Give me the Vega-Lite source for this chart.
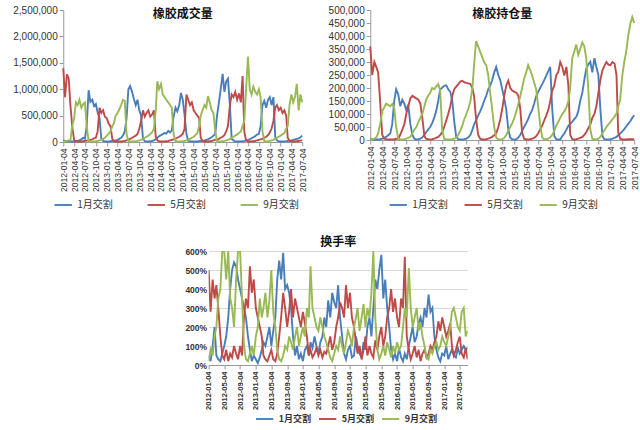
{
"$schema": "https://vega.github.io/schema/vega-lite/v6.json",
"background": "white",
"padding": {"left": 12, "top": 5, "right": 4, "bottom": 4},
"datasets": {"d": [
{"d":"2012-01-04","v1":30000,"v5":1400000,"v9":10000,"o1":5000,"o5":360000,"o9":2000,"t1":0.5,"t5":5,"t9":0.2},
{"d":"2012-01-19","v1":20000,"v5":850000,"v9":15000,"o1":2000,"o5":250000,"o9":3000,"t1":0.2,"t5":2.8,"t9":0.8},
{"d":"2012-02-04","v1":15000,"v5":1280000,"v9":20000,"o1":2000,"o5":300000,"o9":5000,"t1":1,"t5":4.5,"t9":0.5},
{"d":"2012-02-19","v1":10000,"v5":1200000,"v9":30000,"o1":2000,"o5":280000,"o9":10000,"t1":2,"t5":3.5,"t9":1.5},
{"d":"2012-03-04","v1":10000,"v5":700000,"v9":30000,"o1":2000,"o5":260000,"o9":25000,"t1":0.5,"t5":4.2,"t9":2},
{"d":"2012-03-19","v1":10000,"v5":300000,"v9":300000,"o1":3000,"o5":150000,"o9":60000,"t1":0.3,"t5":3,"t9":3.5},
{"d":"2012-04-04","v1":10000,"v5":40000,"v9":450000,"o1":5000,"o5":20000,"o9":110000,"t1":0.2,"t5":1.5,"t9":4},
{"d":"2012-04-19","v1":20000,"v5":10000,"v9":750000,"o1":8000,"o5":5000,"o9":125000,"t1":0.6,"t5":0.5,"t9":6},
{"d":"2012-05-04","v1":20000,"v5":10000,"v9":700000,"o1":12000,"o5":3000,"o9":140000,"t1":1,"t5":0.3,"t9":6},
{"d":"2012-05-19","v1":30000,"v5":10000,"v9":800000,"o1":18000,"o5":2000,"o9":135000,"t1":1.5,"t5":0.8,"t9":4.5},
{"d":"2012-06-04","v1":50000,"v5":10000,"v9":650000,"o1":25000,"o5":2000,"o9":130000,"t1":2.5,"t5":0.2,"t9":6},
{"d":"2012-06-19","v1":80000,"v5":15000,"v9":720000,"o1":60000,"o5":2000,"o9":138000,"t1":4,"t5":0.6,"t9":3.5},
{"d":"2012-07-04","v1":60000,"v5":20000,"v9":750000,"o1":150000,"o5":2000,"o9":125000,"t1":5,"t5":0.4,"t9":3},
{"d":"2012-07-19","v1":300000,"v5":25000,"v9":300000,"o1":195000,"o5":5000,"o9":50000,"t1":5.4,"t5":1,"t9":2},
{"d":"2012-08-04","v1":980000,"v5":30000,"v9":20000,"o1":175000,"o5":5000,"o9":5000,"t1":5.2,"t5":0.6,"t9":4.5},
{"d":"2012-08-19","v1":760000,"v5":40000,"v9":10000,"o1":130000,"o5":20000,"o9":2000,"t1":4.5,"t5":0.3,"t9":6},
{"d":"2012-09-04","v1":800000,"v5":50000,"v9":10000,"o1":155000,"o5":40000,"o9":2000,"t1":4,"t5":1,"t9":6},
{"d":"2012-09-19","v1":680000,"v5":70000,"v9":10000,"o1":140000,"o5":60000,"o9":3000,"t1":3.5,"t5":0.5,"t9":3.5},
{"d":"2012-10-04","v1":720000,"v5":80000,"v9":15000,"o1":115000,"o5":100000,"o9":5000,"t1":3,"t5":2.5,"t9":1},
{"d":"2012-10-19","v1":560000,"v5":200000,"v9":20000,"o1":135000,"o5":130000,"o9":8000,"t1":2.5,"t5":3.5,"t9":0.3},
{"d":"2012-11-04","v1":450000,"v5":650000,"v9":30000,"o1":62000,"o5":160000,"o9":12000,"t1":1.5,"t5":3,"t9":0.2},
{"d":"2012-11-19","v1":60000,"v5":550000,"v9":40000,"o1":20000,"o5":170000,"o9":25000,"t1":0.8,"t5":5.2,"t9":0.6},
{"d":"2012-12-04","v1":20000,"v5":600000,"v9":60000,"o1":5000,"o5":165000,"o9":40000,"t1":0.2,"t5":3.8,"t9":1},
{"d":"2012-12-19","v1":10000,"v5":480000,"v9":80000,"o1":2000,"o5":160000,"o9":49000,"t1":0.5,"t5":4.5,"t9":0.5},
{"d":"2013-01-04","v1":10000,"v5":450000,"v9":120000,"o1":3000,"o5":155000,"o9":70000,"t1":0.3,"t5":3,"t9":1.5},
{"d":"2013-01-19","v1":10000,"v5":350000,"v9":160000,"o1":5000,"o5":140000,"o9":85000,"t1":0.1,"t5":2.5,"t9":2},
{"d":"2013-02-04","v1":15000,"v5":300000,"v9":200000,"o1":10000,"o5":80000,"o9":102000,"t1":0.4,"t5":2,"t9":3.5},
{"d":"2013-02-19","v1":20000,"v5":60000,"v9":300000,"o1":20000,"o5":15000,"o9":130000,"t1":0.8,"t5":1.5,"t9":2.5},
{"d":"2013-03-04","v1":20000,"v5":20000,"v9":350000,"o1":30000,"o5":5000,"o9":155000,"t1":1.2,"t5":0.5,"t9":3},
{"d":"2013-03-19","v1":30000,"v5":10000,"v9":500000,"o1":40000,"o5":3000,"o9":170000,"t1":1,"t5":0.3,"t9":3.8},
{"d":"2013-04-04","v1":40000,"v5":10000,"v9":550000,"o1":50000,"o5":2000,"o9":182000,"t1":1.5,"t5":0.2,"t9":2.5},
{"d":"2013-04-19","v1":60000,"v5":10000,"v9":620000,"o1":65000,"o5":3000,"o9":200000,"t1":2,"t5":0.5,"t9":3.4},
{"d":"2013-05-04","v1":80000,"v5":10000,"v9":700000,"o1":85000,"o5":5000,"o9":195000,"t1":1,"t5":0.8,"t9":5},
{"d":"2013-05-19","v1":120000,"v5":15000,"v9":800000,"o1":110000,"o5":8000,"o9":205000,"t1":1.8,"t5":0.3,"t9":2.8},
{"d":"2013-06-04","v1":200000,"v5":20000,"v9":780000,"o1":150000,"o5":12000,"o9":215000,"t1":2.5,"t5":0.2,"t9":2},
{"d":"2013-06-19","v1":450000,"v5":30000,"v9":150000,"o1":195000,"o5":20000,"o9":190000,"t1":4.5,"t5":0.6,"t9":0.8},
{"d":"2013-07-04","v1":1000000,"v5":40000,"v9":20000,"o1":201000,"o5":30000,"o9":40000,"t1":5.5,"t5":1.5,"t9":0.3},
{"d":"2013-07-19","v1":1060000,"v5":60000,"v9":10000,"o1":208000,"o5":50000,"o9":5000,"t1":4.5,"t5":2.5,"t9":0.2},
{"d":"2013-08-04","v1":950000,"v5":80000,"v9":10000,"o1":210000,"o5":75000,"o9":2000,"t1":5.9,"t5":3.8,"t9":0.5},
{"d":"2013-08-19","v1":820000,"v5":100000,"v9":10000,"o1":195000,"o5":100000,"o9":2000,"t1":4,"t5":3,"t9":1},
{"d":"2013-09-04","v1":700000,"v5":120000,"v9":15000,"o1":185000,"o5":130000,"o9":2000,"t1":4.2,"t5":2,"t9":0.8},
{"d":"2013-09-19","v1":800000,"v5":150000,"v9":20000,"o1":150000,"o5":170000,"o9":3000,"t1":3.8,"t5":2.8,"t9":1.5},
{"d":"2013-10-04","v1":600000,"v5":250000,"v9":30000,"o1":70000,"o5":195000,"o9":5000,"t1":3,"t5":4,"t9":1.2},
{"d":"2013-10-19","v1":500000,"v5":400000,"v9":40000,"o1":12000,"o5":205000,"o9":10000,"t1":1.5,"t5":2.5,"t9":0.8},
{"d":"2013-11-04","v1":60000,"v5":600000,"v9":60000,"o1":3000,"o5":215000,"o9":20000,"t1":0.5,"t5":3.5,"t9":1.5},
{"d":"2013-11-19","v1":15000,"v5":480000,"v9":80000,"o1":2000,"o5":225000,"o9":35000,"t1":1,"t5":3,"t9":2},
{"d":"2013-12-04","v1":10000,"v5":550000,"v9":100000,"o1":2000,"o5":228000,"o9":55000,"t1":0.3,"t5":2.5,"t9":1},
{"d":"2013-12-19","v1":10000,"v5":600000,"v9":120000,"o1":3000,"o5":222000,"o9":80000,"t1":0.6,"t5":2,"t9":1.5},
{"d":"2014-01-04","v1":15000,"v5":480000,"v9":150000,"o1":5000,"o5":220000,"o9":100000,"t1":0.2,"t5":2.8,"t9":2},
{"d":"2014-01-19","v1":20000,"v5":520000,"v9":180000,"o1":10000,"o5":218000,"o9":120000,"t1":0.8,"t5":2.2,"t9":1.5},
{"d":"2014-02-04","v1":30000,"v5":600000,"v9":250000,"o1":20000,"o5":215000,"o9":150000,"t1":1,"t5":1.5,"t9":3},
{"d":"2014-02-19","v1":50000,"v5":100000,"v9":600000,"o1":40000,"o5":200000,"o9":200000,"t1":0.5,"t5":0.5,"t9":2.5},
{"d":"2014-03-04","v1":80000,"v5":30000,"v9":1150000,"o1":60000,"o5":168000,"o9":290000,"t1":1.2,"t5":0.8,"t9":5.2},
{"d":"2014-03-19","v1":110000,"v5":10000,"v9":1000000,"o1":75000,"o5":80000,"o9":380000,"t1":0.9,"t5":0.4,"t9":3},
{"d":"2014-04-04","v1":130000,"v5":10000,"v9":1100000,"o1":95000,"o5":20000,"o9":360000,"t1":1.5,"t5":0.6,"t9":2.5},
{"d":"2014-04-19","v1":150000,"v5":10000,"v9":900000,"o1":110000,"o5":5000,"o9":340000,"t1":1,"t5":0.9,"t9":2},
{"d":"2014-05-04","v1":170000,"v5":10000,"v9":850000,"o1":128000,"o5":2000,"o9":320000,"t1":0.6,"t5":0.5,"t9":1.8},
{"d":"2014-05-19","v1":160000,"v5":15000,"v9":800000,"o1":150000,"o5":2000,"o9":300000,"t1":1.2,"t5":0.8,"t9":2.5},
{"d":"2014-06-04","v1":210000,"v5":20000,"v9":750000,"o1":170000,"o5":3000,"o9":288000,"t1":1.5,"t5":0.4,"t9":2},
{"d":"2014-06-19","v1":180000,"v5":30000,"v9":700000,"o1":195000,"o5":5000,"o9":250000,"t1":2.5,"t5":0.7,"t9":1.5},
{"d":"2014-07-04","v1":220000,"v5":40000,"v9":650000,"o1":208000,"o5":8000,"o9":182000,"t1":2,"t5":0.6,"t9":1.2},
{"d":"2014-07-19","v1":480000,"v5":50000,"v9":150000,"o1":230000,"o5":12000,"o9":120000,"t1":3.4,"t5":1,"t9":0.8},
{"d":"2014-08-04","v1":650000,"v5":60000,"v9":20000,"o1":260000,"o5":18000,"o9":50000,"t1":2.5,"t5":1.5,"t9":0.4},
{"d":"2014-08-19","v1":580000,"v5":80000,"v9":10000,"o1":281000,"o5":25000,"o9":9000,"t1":3.8,"t5":0.8,"t9":0.2},
{"d":"2014-09-04","v1":700000,"v5":100000,"v9":10000,"o1":250000,"o5":50000,"o9":3000,"t1":3.3,"t5":1.2,"t9":0.6},
{"d":"2014-09-19","v1":930000,"v5":120000,"v9":10000,"o1":230000,"o5":80000,"o9":2000,"t1":3,"t5":2,"t9":1},
{"d":"2014-10-04","v1":800000,"v5":150000,"v9":15000,"o1":195000,"o5":120000,"o9":3000,"t1":4.2,"t5":2.5,"t9":0.8},
{"d":"2014-10-19","v1":520000,"v5":250000,"v9":20000,"o1":160000,"o5":170000,"o9":8000,"t1":2.5,"t5":3.3,"t9":1.5},
{"d":"2014-11-04","v1":150000,"v5":900000,"v9":30000,"o1":115000,"o5":210000,"o9":20000,"t1":1.5,"t5":3,"t9":1},
{"d":"2014-11-19","v1":20000,"v5":800000,"v9":40000,"o1":40000,"o5":228000,"o9":35000,"t1":0.6,"t5":2.5,"t9":0.6},
{"d":"2014-12-04","v1":10000,"v5":700000,"v9":60000,"o1":9000,"o5":200000,"o9":50000,"t1":0.3,"t5":4.2,"t9":1.2},
{"d":"2014-12-19","v1":10000,"v5":750000,"v9":80000,"o1":3000,"o5":190000,"o9":65000,"t1":0.8,"t5":3,"t9":1.8},
{"d":"2015-01-04","v1":10000,"v5":600000,"v9":100000,"o1":2000,"o5":185000,"o9":85000,"t1":1,"t5":3.8,"t9":1.5},
{"d":"2015-01-19","v1":10000,"v5":550000,"v9":130000,"o1":2000,"o5":182000,"o9":110000,"t1":0.4,"t5":2.5,"t9":1},
{"d":"2015-02-04","v1":10000,"v5":500000,"v9":170000,"o1":10000,"o5":170000,"o9":140000,"t1":0.5,"t5":2,"t9":2},
{"d":"2015-02-19","v1":15000,"v5":450000,"v9":300000,"o1":20000,"o5":115000,"o9":170000,"t1":1.5,"t5":1.2,"t9":2.5},
{"d":"2015-03-04","v1":20000,"v5":80000,"v9":500000,"o1":35000,"o5":30000,"o9":200000,"t1":1,"t5":0.6,"t9":3},
{"d":"2015-03-19","v1":25000,"v5":20000,"v9":600000,"o1":50000,"o5":5000,"o9":235000,"t1":0.6,"t5":1,"t9":1.8},
{"d":"2015-04-04","v1":30000,"v5":10000,"v9":700000,"o1":65000,"o5":2000,"o9":260000,"t1":0.4,"t5":0.3,"t9":2.5},
{"d":"2015-04-19","v1":40000,"v5":10000,"v9":650000,"o1":80000,"o5":2000,"o9":288000,"t1":1.2,"t5":0.8,"t9":3.2},
{"d":"2015-05-04","v1":50000,"v5":10000,"v9":870000,"o1":100000,"o5":3000,"o9":270000,"t1":0.8,"t5":1.5,"t9":2},
{"d":"2015-05-19","v1":70000,"v5":15000,"v9":750000,"o1":115000,"o5":5000,"o9":248000,"t1":2,"t5":0.5,"t9":3},
{"d":"2015-06-04","v1":90000,"v5":20000,"v9":600000,"o1":140000,"o5":8000,"o9":220000,"t1":2.5,"t5":1,"t9":2.5},
{"d":"2015-06-19","v1":120000,"v5":30000,"v9":550000,"o1":168000,"o5":15000,"o9":195000,"t1":1.5,"t5":0.6,"t9":3.8},
{"d":"2015-07-04","v1":150000,"v5":40000,"v9":200000,"o1":185000,"o5":25000,"o9":130000,"t1":3,"t5":0.4,"t9":6},
{"d":"2015-07-19","v1":500000,"v5":50000,"v9":20000,"o1":200000,"o5":40000,"o9":60000,"t1":4.5,"t5":1.3,"t9":2.5},
{"d":"2015-08-04","v1":750000,"v5":60000,"v9":10000,"o1":215000,"o5":55000,"o9":10000,"t1":4,"t5":0.8,"t9":0.8},
{"d":"2015-08-19","v1":1000000,"v5":80000,"v9":10000,"o1":230000,"o5":75000,"o9":3000,"t1":5,"t5":1.5,"t9":0.3},
{"d":"2015-09-04","v1":1290000,"v5":100000,"v9":15000,"o1":248000,"o5":95000,"o9":3000,"t1":5.8,"t5":2,"t9":0.6},
{"d":"2015-09-19","v1":950000,"v5":130000,"v9":20000,"o1":265000,"o5":115000,"o9":5000,"t1":3.5,"t5":1,"t9":1},
{"d":"2015-10-04","v1":1150000,"v5":200000,"v9":30000,"o1":281000,"o5":150000,"o9":10000,"t1":4.5,"t5":1.5,"t9":0.5},
{"d":"2015-10-19","v1":1200000,"v5":300000,"v9":40000,"o1":120000,"o5":190000,"o9":20000,"t1":3,"t5":2.5,"t9":1.2},
{"d":"2015-11-04","v1":700000,"v5":700000,"v9":60000,"o1":15000,"o5":210000,"o9":35000,"t1":2,"t5":3,"t9":0.8},
{"d":"2015-11-19","v1":60000,"v5":900000,"v9":80000,"o1":3000,"o5":250000,"o9":55000,"t1":0.8,"t5":4,"t9":0.4},
{"d":"2015-12-04","v1":30000,"v5":850000,"v9":100000,"o1":2000,"o5":261000,"o9":70000,"t1":0.3,"t5":2.8,"t9":1},
{"d":"2015-12-19","v1":10000,"v5":950000,"v9":120000,"o1":2000,"o5":300000,"o9":85000,"t1":0.6,"t5":3.5,"t9":0.6},
{"d":"2016-01-04","v1":10000,"v5":800000,"v9":140000,"o1":15000,"o5":280000,"o9":100000,"t1":0.2,"t5":2.5,"t9":1.2},
{"d":"2016-01-19","v1":10000,"v5":920000,"v9":170000,"o1":25000,"o5":248000,"o9":110000,"t1":0.9,"t5":2,"t9":0.8},
{"d":"2016-02-04","v1":10000,"v5":750000,"v9":200000,"o1":40000,"o5":281000,"o9":125000,"t1":0.4,"t5":3.5,"t9":1},
{"d":"2016-02-19","v1":15000,"v5":1250000,"v9":300000,"o1":55000,"o5":208000,"o9":150000,"t1":0.2,"t5":3,"t9":2},
{"d":"2016-03-04","v1":20000,"v5":200000,"v9":400000,"o1":62000,"o5":20000,"o9":200000,"t1":0.6,"t5":5.7,"t9":3},
{"d":"2016-03-19","v1":30000,"v5":30000,"v9":1000000,"o1":70000,"o5":3000,"o9":314000,"t1":0.3,"t5":1.5,"t9":2.5},
{"d":"2016-04-04","v1":40000,"v5":10000,"v9":1620000,"o1":80000,"o5":2000,"o9":340000,"t1":1,"t5":0.8,"t9":5.1},
{"d":"2016-04-19","v1":50000,"v5":10000,"v9":1000000,"o1":89000,"o5":3000,"o9":367000,"t1":1.5,"t5":0.3,"t9":3},
{"d":"2016-05-04","v1":70000,"v5":10000,"v9":900000,"o1":110000,"o5":5000,"o9":328000,"t1":2,"t5":0.6,"t9":2},
{"d":"2016-05-19","v1":90000,"v5":15000,"v9":1050000,"o1":150000,"o5":8000,"o9":350000,"t1":1.2,"t5":1,"t9":2.5},
{"d":"2016-06-04","v1":110000,"v5":20000,"v9":950000,"o1":182000,"o5":12000,"o9":375000,"t1":1.5,"t5":0.4,"t9":3},
{"d":"2016-06-19","v1":140000,"v5":30000,"v9":900000,"o1":230000,"o5":20000,"o9":360000,"t1":2.2,"t5":0.8,"t9":1.8},
{"d":"2016-07-04","v1":150000,"v5":40000,"v9":1000000,"o1":275000,"o5":30000,"o9":314000,"t1":2.5,"t5":0.2,"t9":2.2},
{"d":"2016-07-19","v1":300000,"v5":50000,"v9":850000,"o1":290000,"o5":45000,"o9":200000,"t1":2,"t5":0.6,"t9":1.5},
{"d":"2016-08-04","v1":700000,"v5":60000,"v9":200000,"o1":301000,"o5":60000,"o9":40000,"t1":3,"t5":0.8,"t9":1},
{"d":"2016-08-19","v1":780000,"v5":80000,"v9":20000,"o1":260000,"o5":85000,"o9":5000,"t1":2.5,"t5":0.4,"t9":0.4},
{"d":"2016-09-04","v1":650000,"v5":100000,"v9":10000,"o1":315000,"o5":100000,"o9":2000,"t1":3.7,"t5":0.6,"t9":0.3},
{"d":"2016-09-19","v1":800000,"v5":130000,"v9":10000,"o1":281000,"o5":130000,"o9":2000,"t1":2.8,"t5":1,"t9":0.8},
{"d":"2016-10-04","v1":850000,"v5":180000,"v9":20000,"o1":250000,"o5":180000,"o9":5000,"t1":3,"t5":0.8,"t9":0.6},
{"d":"2016-10-19","v1":700000,"v5":250000,"v9":30000,"o1":120000,"o5":230000,"o9":12000,"t1":1.5,"t5":1.2,"t9":1},
{"d":"2016-11-04","v1":850000,"v5":400000,"v9":40000,"o1":15000,"o5":268000,"o9":25000,"t1":0.8,"t5":1.5,"t9":1.2},
{"d":"2016-11-19","v1":100000,"v5":650000,"v9":60000,"o1":3000,"o5":285000,"o9":38000,"t1":0.4,"t5":2.3,"t9":0.8},
{"d":"2016-12-04","v1":30000,"v5":700000,"v9":80000,"o1":2000,"o5":300000,"o9":50000,"t1":0.2,"t5":1.8,"t9":1},
{"d":"2016-12-19","v1":10000,"v5":600000,"v9":100000,"o1":2000,"o5":290000,"o9":60000,"t1":0.6,"t5":2.5,"t9":1.5},
{"d":"2017-01-04","v1":10000,"v5":650000,"v9":120000,"o1":3000,"o5":288000,"o9":69000,"t1":0.5,"t5":2,"t9":1.2},
{"d":"2017-01-19","v1":10000,"v5":550000,"v9":150000,"o1":5000,"o5":300000,"o9":80000,"t1":1,"t5":1.5,"t9":1},
{"d":"2017-02-04","v1":10000,"v5":600000,"v9":170000,"o1":8000,"o5":294000,"o9":90000,"t1":0.3,"t5":1.8,"t9":1.5},
{"d":"2017-02-19","v1":15000,"v5":500000,"v9":250000,"o1":12000,"o5":250000,"o9":102000,"t1":0.6,"t5":2.2,"t9":2},
{"d":"2017-03-04","v1":20000,"v5":80000,"v9":300000,"o1":18000,"o5":30000,"o9":130000,"t1":0.8,"t5":1,"t9":2.8},
{"d":"2017-03-19","v1":25000,"v5":20000,"v9":700000,"o1":25000,"o5":5000,"o9":155000,"t1":0.5,"t5":0.5,"t9":3},
{"d":"2017-04-04","v1":30000,"v5":10000,"v9":900000,"o1":33000,"o5":2000,"o9":248000,"t1":0.4,"t5":0.8,"t9":2.5},
{"d":"2017-04-19","v1":40000,"v5":10000,"v9":750000,"o1":42000,"o5":2000,"o9":300000,"t1":0.9,"t5":1.2,"t9":2},
{"d":"2017-05-04","v1":50000,"v5":10000,"v9":850000,"o1":52000,"o5":2000,"o9":340000,"t1":0.6,"t5":1.5,"t9":1.8},
{"d":"2017-05-19","v1":60000,"v5":15000,"v9":1100000,"o1":62000,"o5":3000,"o9":400000,"t1":0.8,"t5":0.6,"t9":2.8},
{"d":"2017-06-04","v1":70000,"v5":20000,"v9":600000,"o1":72000,"o5":3000,"o9":447000,"t1":1,"t5":0.4,"t9":3},
{"d":"2017-06-19","v1":90000,"v5":25000,"v9":900000,"o1":85000,"o5":3000,"o9":473000,"t1":0.8,"t5":0.9,"t9":1.5},
{"d":"2017-07-04","v1":120000,"v5":30000,"v9":750000,"o1":95000,"o5":2000,"o9":450000,"t1":0.9,"t5":0.3,"t9":1.8}
]},
"config": {
  "view": {"stroke": null},
  "axis": {"labelFont": "Liberation Sans", "labelColor": "#333333", "domainColor": "#9a9a9a", "tickColor": "#9a9a9a", "tickSize": 4, "title": null},
  "legend": {"labelFont": "Noto Sans CJK SC", "labelFontSize": 10, "labelColor": "#333333", "symbolType": "stroke", "symbolStrokeWidth": 3, "symbolSize": 300, "orient": "none", "direction": "horizontal", "title": null, "padding": 0},
  "title": {"font": "Noto Sans CJK SC", "fontSize": 12, "fontWeight": "bold", "color": "#111111", "anchor": "middle"},
  "line": {"strokeWidth": 1.9}
},
"spacing": 26,
"center": true,
"resolve": {"scale": {"color": "independent", "x": "independent", "y": "independent"}, "legend": {"color": "independent"}},
"vconcat": [
{
  "spacing": 20,
  "resolve": {"scale": {"color": "independent", "x": "independent", "y": "independent"}, "legend": {"color": "independent"}},
  "hconcat": [
  {
    "width": 239, "height": 132,
    "title": {"text": "橡胶成交量", "offset": -16},
    "data": {"name": "d"},
    "transform": [{"fold": ["v1", "v5", "v9"], "as": ["k", "val"]}],
    "mark": {"type": "line"},
    "encoding": {
      "x": {"field": "d", "type": "temporal",
        "scale": {"type": "utc", "domain": [{"year": 2012, "month": 1, "date": 4, "utc": true}, {"year": 2017, "month": 7, "date": 4, "utc": true}]},
        "axis": {"format": "%Y-%m-%d", "labelAngle": -90, "labelFontSize": 8.5, "grid": false,
          "values": [
            {"year":2012,"month":1,"date":4,"utc":true},{"year":2012,"month":4,"date":4,"utc":true},{"year":2012,"month":7,"date":4,"utc":true},{"year":2012,"month":10,"date":4,"utc":true},
            {"year":2013,"month":1,"date":4,"utc":true},{"year":2013,"month":4,"date":4,"utc":true},{"year":2013,"month":7,"date":4,"utc":true},{"year":2013,"month":10,"date":4,"utc":true},
            {"year":2014,"month":1,"date":4,"utc":true},{"year":2014,"month":4,"date":4,"utc":true},{"year":2014,"month":7,"date":4,"utc":true},{"year":2014,"month":10,"date":4,"utc":true},
            {"year":2015,"month":1,"date":4,"utc":true},{"year":2015,"month":4,"date":4,"utc":true},{"year":2015,"month":7,"date":4,"utc":true},{"year":2015,"month":10,"date":4,"utc":true},
            {"year":2016,"month":1,"date":4,"utc":true},{"year":2016,"month":4,"date":4,"utc":true},{"year":2016,"month":7,"date":4,"utc":true},{"year":2016,"month":10,"date":4,"utc":true},
            {"year":2017,"month":1,"date":4,"utc":true},{"year":2017,"month":4,"date":4,"utc":true},{"year":2017,"month":7,"date":4,"utc":true}]}},
      "y": {"field": "val", "type": "quantitative", "scale": {"domain": [0, 2500000]},
        "axis": {"values": [0, 500000, 1000000, 1500000, 2000000, 2500000], "format": ",d", "grid": false, "labelFontSize": 10}},
      "color": {"field": "k", "type": "nominal", "scale": {"domain": ["v1", "v5", "v9"], "range": ["#4A7EBB", "#BE4B48", "#98B954"]},
        "legend": {"labelExpr": "slice(datum.label,1)+'月交割'", "columnPadding": 30, "legendX": -10, "legendY": 185}}
    }
  },
  {
    "width": 264, "height": 130,
    "title": {"text": "橡胶持仓量", "offset": -16},
    "data": {"name": "d"},
    "transform": [{"fold": ["o1", "o5", "o9"], "as": ["k", "val"]}],
    "mark": {"type": "line"},
    "encoding": {
      "x": {"field": "d", "type": "temporal",
        "scale": {"type": "utc", "domain": [{"year": 2012, "month": 1, "date": 4, "utc": true}, {"year": 2017, "month": 7, "date": 4, "utc": true}]},
        "axis": {"format": "%Y-%m-%d", "labelAngle": -90, "labelFontSize": 8.5, "grid": false,
          "values": [
            {"year":2012,"month":1,"date":4,"utc":true},{"year":2012,"month":4,"date":4,"utc":true},{"year":2012,"month":7,"date":4,"utc":true},{"year":2012,"month":10,"date":4,"utc":true},
            {"year":2013,"month":1,"date":4,"utc":true},{"year":2013,"month":4,"date":4,"utc":true},{"year":2013,"month":7,"date":4,"utc":true},{"year":2013,"month":10,"date":4,"utc":true},
            {"year":2014,"month":1,"date":4,"utc":true},{"year":2014,"month":4,"date":4,"utc":true},{"year":2014,"month":7,"date":4,"utc":true},{"year":2014,"month":10,"date":4,"utc":true},
            {"year":2015,"month":1,"date":4,"utc":true},{"year":2015,"month":4,"date":4,"utc":true},{"year":2015,"month":7,"date":4,"utc":true},{"year":2015,"month":10,"date":4,"utc":true},
            {"year":2016,"month":1,"date":4,"utc":true},{"year":2016,"month":4,"date":4,"utc":true},{"year":2016,"month":7,"date":4,"utc":true},{"year":2016,"month":10,"date":4,"utc":true},
            {"year":2017,"month":1,"date":4,"utc":true},{"year":2017,"month":4,"date":4,"utc":true},{"year":2017,"month":7,"date":4,"utc":true}]}},
      "y": {"field": "val", "type": "quantitative", "scale": {"domain": [0, 500000]},
        "axis": {"values": [0, 50000, 100000, 150000, 200000, 250000, 300000, 350000, 400000, 450000, 500000], "format": ",d", "grid": false, "labelFontSize": 10}},
      "color": {"field": "k", "type": "nominal", "scale": {"domain": ["o1", "o5", "o9"], "range": ["#4A7EBB", "#BE4B48", "#98B954"]},
        "legend": {"labelExpr": "slice(datum.label,1)+'月交割'", "columnPadding": 12, "legendX": 18, "legendY": 185}}
    }
  }
  ]
},
{
  "width": 259, "height": 114,
  "title": {"text": "换手率", "offset": -2},
  "data": {"name": "d"},
  "transform": [{"fold": ["t1", "t5", "t9"], "as": ["k", "val"]}],
  "resolve": {"axis": {"y": "independent"}},
  "layer": [
  {
    "mark": {"type": "line", "clip": true},
    "encoding": {
      "x": {"field": "d", "type": "temporal",
        "scale": {"type": "utc", "domain": [{"year": 2012, "month": 1, "date": 4, "utc": true}, {"year": 2017, "month": 7, "date": 4, "utc": true}]},
        "axis": {"format": "%Y-%m-%d", "labelAngle": -90, "labelFontSize": 7.5, "labelFontWeight": "bold", "grid": false,
          "values": [
            {"year":2012,"month":1,"date":4,"utc":true},{"year":2012,"month":5,"date":4,"utc":true},{"year":2012,"month":9,"date":4,"utc":true},
            {"year":2013,"month":1,"date":4,"utc":true},{"year":2013,"month":5,"date":4,"utc":true},{"year":2013,"month":9,"date":4,"utc":true},
            {"year":2014,"month":1,"date":4,"utc":true},{"year":2014,"month":5,"date":4,"utc":true},{"year":2014,"month":9,"date":4,"utc":true},
            {"year":2015,"month":1,"date":4,"utc":true},{"year":2015,"month":5,"date":4,"utc":true},{"year":2015,"month":9,"date":4,"utc":true},
            {"year":2016,"month":1,"date":4,"utc":true},{"year":2016,"month":5,"date":4,"utc":true},{"year":2016,"month":9,"date":4,"utc":true},
            {"year":2017,"month":1,"date":4,"utc":true},{"year":2017,"month":5,"date":4,"utc":true}]}},
      "y": {"field": "val", "type": "quantitative", "scale": {"domain": [0, 6]},
        "axis": {"values": [0, 1, 2, 3, 4, 5, 6], "format": ".0%", "grid": true, "gridColor": "#d9d9d9", "domain": false, "ticks": false, "labelFontSize": 8.5, "labelFontWeight": "bold"}},
      "color": {"field": "k", "type": "nominal", "scale": {"domain": ["t1", "t5", "t9"], "range": ["#4A7EBB", "#BE4B48", "#98B954"]},
        "legend": {"labelExpr": "slice(datum.label,1)+'月交割'", "columnPadding": 3, "labelFontWeight": "bold", "labelFontSize": 9, "legendX": 46, "legendY": 158}}
    }
  },
  {
    "mark": {"type": "rule", "opacity": 0},
    "encoding": {
      "y": {"datum": 0, "type": "quantitative",
        "axis": {"orient": "right", "values": [6], "format": ".0%", "labelColor": "transparent", "grid": false, "domain": false, "ticks": false, "labelFontSize": 8.5, "labelFontWeight": "bold", "labelPadding": 4}}
    }
  }
  ]
}
]
}
